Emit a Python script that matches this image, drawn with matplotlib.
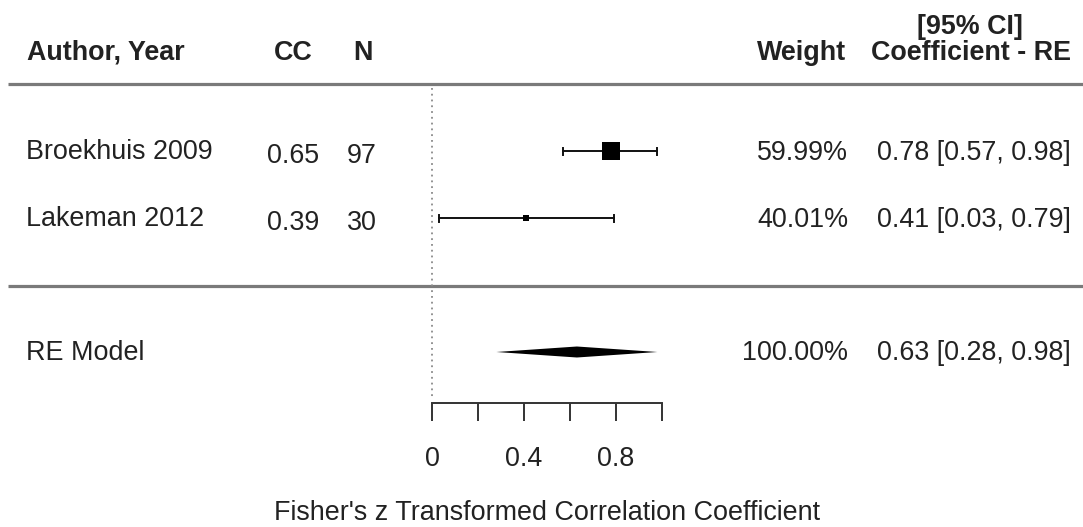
import matplotlib
matplotlib.use("Agg")
import matplotlib.pyplot as plt
from matplotlib.transforms import blended_transform_factory
from matplotlib.patches import Polygon

plt.rcParams['font.family'] = ['Liberation Sans', 'DejaVu Sans']

# data
studies = ['Broekhuis 2009', 'Lakeman 2012']
cc = ['0.65', '0.39']
n = [97, 30]
est = [0.78, 0.41]
ci_lb = [0.57, 0.03]
ci_ub = [0.98, 0.79]
weights = [59.99, 40.01]
re_est = 0.63
re_lb = 0.28
re_ub = 0.98

W, H = 1083, 527
fig = plt.figure(figsize=(W / 100, H / 100), dpi=100)
ax = fig.add_axes([0, 0, 1, 1])

# x in effect units (0 -> 432 px, 1 unit = 230 px), y in pixels from top
x0, scale = 432, 230
ax.set_xlim(-x0 / scale, (W - x0) / scale)
ax.set_ylim(H, 0)

# pixel-x / data-y transform for the text columns
tr = blended_transform_factory(ax.transAxes, ax.transData)
def px(x):
    return x / W

fs = 19.4
txt = '#222222'

# header
ax.text(px(27), 60, 'Author, Year', transform=tr, fontsize=fs, fontweight='bold', color=txt)
ax.text(px(293), 60, 'CC', transform=tr, fontsize=fs, fontweight='bold', color=txt, ha='center')
ax.text(px(363), 60, 'N', transform=tr, fontsize=fs, fontweight='bold', color=txt, ha='center')
ax.text(px(846), 60, 'Weight', transform=tr, fontsize=fs, fontweight='bold', color=txt, ha='right')
ax.text(px(970), 34, '[95% CI]', transform=tr, fontsize=fs, fontweight='bold', color=txt, ha='center')
ax.text(px(1071), 60, 'Coefficient - RE', transform=tr, fontsize=fs, fontweight='bold', color=txt, ha='right')

# separator lines
for yl in [84, 286]:
    ax.plot([px(8), 1], [yl, yl], transform=tr, color='#7a7a7a', lw=2.3, solid_capstyle='butt')

# reference line at 0
ax.plot([0, 0], [88, 398], color='#8a8a8a', lw=1.3, ls=(0, (1, 2.2)))

# studies
wmin, wmax = min(weights), max(weights)
row0, gap = 151, 67
for i in range(len(studies)):
    y = row0 + gap * i
    ax.text(px(26), y + 8, studies[i], transform=tr, fontsize=fs, color=txt)
    ax.text(px(293), y + 12, cc[i], transform=tr, fontsize=fs, color=txt, ha='center')
    ax.text(px(362), y + 12, str(n[i]), transform=tr, fontsize=fs, color=txt, ha='center')
    ax.text(px(848), y + 9, f'{weights[i]:.2f}%', transform=tr, fontsize=fs, color=txt, ha='right')
    ax.text(px(1071), y + 9, f'{est[i]:.2f} [{ci_lb[i]:.2f}, {ci_ub[i]:.2f}]',
            transform=tr, fontsize=fs, color=txt, ha='right')
    ax.plot([ci_lb[i], ci_ub[i]], [y, y], color='#111111', lw=1.4)
    for xe in [ci_lb[i], ci_ub[i]]:
        ax.plot([xe, xe], [y - 3.5, y + 3.5], color='#111111', lw=1.4)
    psize = 0.5 + (weights[i] - wmin) / (wmax - wmin)
    ax.plot(est[i], y, marker='s', color='black', ms=13 * psize / 1.5, mew=0)

# RE model
yre = 352
ax.text(px(26), yre + 8, 'RE Model', transform=tr, fontsize=fs, color=txt)
ax.text(px(848), yre + 8, f'{sum(weights):.2f}%', transform=tr, fontsize=fs, color=txt, ha='right')
ax.text(px(1071), yre + 8, f'{re_est:.2f} [{re_lb:.2f}, {re_ub:.2f}]',
        transform=tr, fontsize=fs, color=txt, ha='right')
ax.add_patch(Polygon([[re_lb, yre], [re_est, yre - 5.5], [re_ub, yre], [re_est, yre + 5.5]],
                     closed=True, color='black', lw=0))

# x axis
for s in ['top', 'left', 'right']:
    ax.spines[s].set_visible(False)
ax.spines['bottom'].set_position(('data', 403))
ax.spines['bottom'].set_bounds(0, 1)
ax.spines['bottom'].set_color('#333333')
ax.spines['bottom'].set_linewidth(1.4)
ax.set_yticks([])
ticks = [0, 0.2, 0.4, 0.6, 0.8, 1.0]
ax.set_xticks(ticks)
ax.set_xticklabels(['0', '', '0.4', '', '0.8', ''])
ax.tick_params(axis='x', direction='out', length=13, width=1.4, color='#333333',
               labelsize=fs, labelcolor=txt, pad=18)
ax.text(0.5, 520, "Fisher's z Transformed Correlation Coefficient",
        fontsize=fs, color=txt, ha='center')

fig.savefig('out.png', dpi=100)
